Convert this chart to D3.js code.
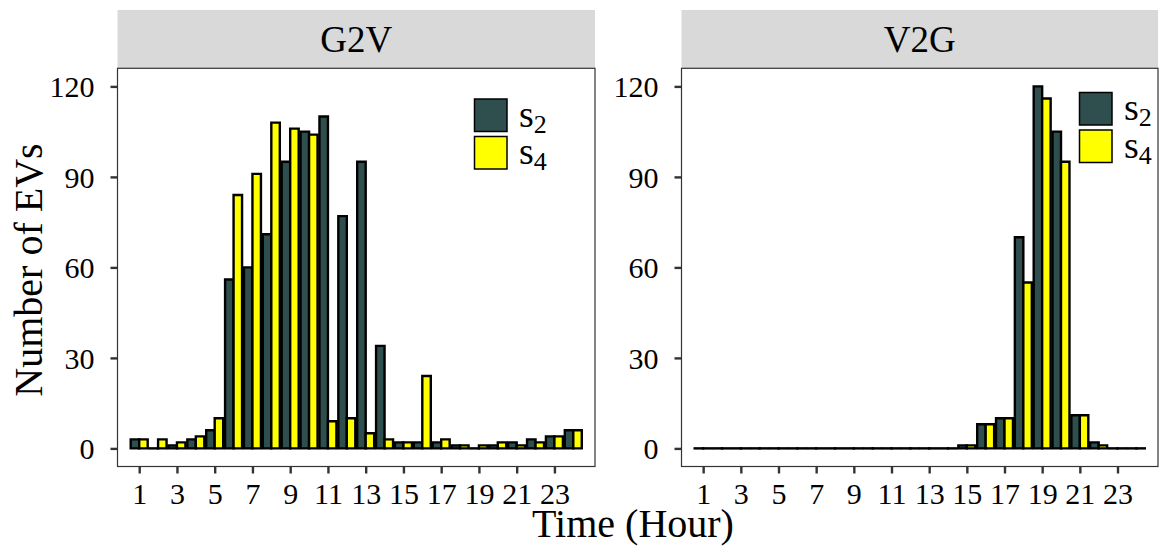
<!DOCTYPE html>
<html>
<head>
<meta charset="utf-8">
<script src="https://cdn.jsdelivr.net/npm/d3@7"></script>
<style>
  body { margin: 0; background: #fff; }
  text { font-family: "Liberation Serif", "Times New Roman", serif; fill: #000; }
</style>
</head>
<body>
<div id="chart"></div>
<script>
// hours of the day
var hours = [1, 2, 3, 4, 5, 6, 7, 8, 9, 10, 11, 12, 13, 14, 15, 16, 17, 18, 19, 20, 21, 22, 23, 24];

// G2V panel
var g2v_s2 = [3, 0, 1, 3, 6, 56, 60, 71, 95, 105, 110, 77, 95, 34, 2, 2, 2, 1, 0, 1, 2, 3, 4, 6];
var g2v_s4 = [3, 3, 2, 4, 10, 84, 91, 108, 106, 104, 9, 10, 5, 3, 2, 24, 3, 1, 1, 2, 1, 2, 4, 6];

// V2G panel
var v2g_s2 = [0, 0, 0, 0, 0, 0, 0, 0, 0, 0, 0, 0, 0, 0, 1, 8, 10, 70, 120, 105, 11, 2, 0, 0];
var v2g_s4 = [0, 0, 0, 0, 0, 0, 0, 0, 0, 0, 0, 0, 0, 0, 1, 8, 10, 55, 116, 95, 11, 1, 0, 0];

var panelNames = ["G2V", "V2G"];
var seriesNames = ["s2", "s4"];
var xTicks = [1, 3, 5, 7, 9, 11, 13, 15, 17, 19, 21, 23];
var yTicks = [0, 30, 60, 90, 120];

var chart_width  = 1159;
var chart_height = 547;
var colors = ["#2F4F4F", "#FFFF00"];

var panels = [
  { name: panelNames[0], x0: 117.5, x1: 595, series: [g2v_s2, g2v_s4], legend: [474.5, 99] },
  { name: panelNames[1], x0: 681.5, x1: 1158, series: [v2g_s2, v2g_s4], legend: [1079.5, 92.5] }
];
var stripTop = 10, panelTop = 68.3, panelBottom = 466.5;

var svg = d3.select('#chart')
  .append('svg')
  .attr('width', chart_width)
  .attr('height', chart_height);

var y_scale = d3.scaleLinear()
  .domain([-6, 126])
  .range([panelBottom, panelTop]);

panels.forEach(function(p) {
  var x_scale = d3.scaleLinear()
    .domain([-0.15, 25.15])
    .range([p.x0, p.x1]);
  var bw = 0.45;

  // strip
  svg.append('rect')
    .attr('x', p.x0).attr('y', stripTop)
    .attr('width', p.x1 - p.x0).attr('height', panelTop - stripTop)
    .attr('fill', '#D9D9D9');
  svg.append('text')
    .attr('x', (p.x0 + p.x1) / 2).attr('y', 52)
    .attr('text-anchor', 'middle')
    .style('font-size', '37px')
    .text(p.name);

  // panel background
  svg.append('rect')
    .attr('x', p.x0).attr('y', panelTop)
    .attr('width', p.x1 - p.x0).attr('height', panelBottom - panelTop)
    .attr('fill', '#fff');

  // bars (paths; zero bars get a hair of height so the outline joins up)
  p.series.forEach(function(vals, si) {
    svg.append('g')
      .selectAll('path')
      .data(hours)
      .enter()
      .append('path')
      .attr('d', function(h, i) {
        var xa = x_scale(h - bw + si * bw), xb = x_scale(h + si * bw);
        var ya = y_scale(0), yb = Math.min(y_scale(vals[i]), ya - 0.05);
        return 'M' + xa + ',' + ya + 'H' + xb + 'V' + yb + 'H' + xa + 'Z';
      })
      .attr('fill', colors[si])
      .attr('stroke', '#000')
      .attr('stroke-width', 2.4)
      .attr('stroke-linejoin', 'miter');
  });

  // panel border
  svg.append('rect')
    .attr('x', p.x0).attr('y', panelTop)
    .attr('width', p.x1 - p.x0).attr('height', panelBottom - panelTop)
    .attr('fill', 'none')
    .attr('stroke', '#333')
    .attr('stroke-width', 1.2);

  // axes
  var xAxis = d3.axisBottom(x_scale).tickValues(xTicks).tickSize(7).tickPadding(6);
  var yAxis = d3.axisLeft(y_scale).tickValues(yTicks).tickSize(7).tickPadding(16);

  var gx = svg.append('g')
    .attr('transform', 'translate(0,' + panelBottom + ')')
    .call(xAxis);
  var gy = svg.append('g')
    .attr('transform', 'translate(' + p.x0 + ',0)')
    .call(yAxis);
  [gx, gy].forEach(function(g) {
    g.select('.domain').remove();
    g.selectAll('line').attr('stroke', '#333').attr('stroke-width', 2.4);
    g.selectAll('text').style('font-size', '30px').style('font-family', '"Liberation Serif", serif').attr('fill', '#000');
  });
  gx.selectAll('text').attr('dy', null).attr('y', 37);
  gy.selectAll('text').attr('dy', '0.34em');

  // legend
  seriesNames.forEach(function(s, si) {
    var lx = p.legend[0], ly = p.legend[1] + si * 37.5;
    svg.append('rect')
      .attr('x', lx).attr('y', ly)
      .attr('width', 32.5).attr('height', 32.5)
      .attr('fill', colors[si])
      .attr('stroke', '#000')
      .attr('stroke-width', 1.5);
    var t = svg.append('text')
      .attr('x', lx + 44.5).attr('y', ly + 27.5)
      .style('font-size', '38px');
    t.append('tspan').text(s.charAt(0));
    t.append('tspan').attr('dy', 6).style('font-size', '26px').text(s.slice(1));
  });
});

// axis titles
svg.append('text')
  .attr('x', 633).attr('y', 537)
  .attr('text-anchor', 'middle')
  .style('font-size', '40px')
  .text('Time (Hour)');

svg.append('text')
  .attr('transform', 'translate(42,270) rotate(-90)')
  .attr('text-anchor', 'middle')
  .style('font-size', '40px')
  .text('Number of EVs');
</script>
</body>
</html>
